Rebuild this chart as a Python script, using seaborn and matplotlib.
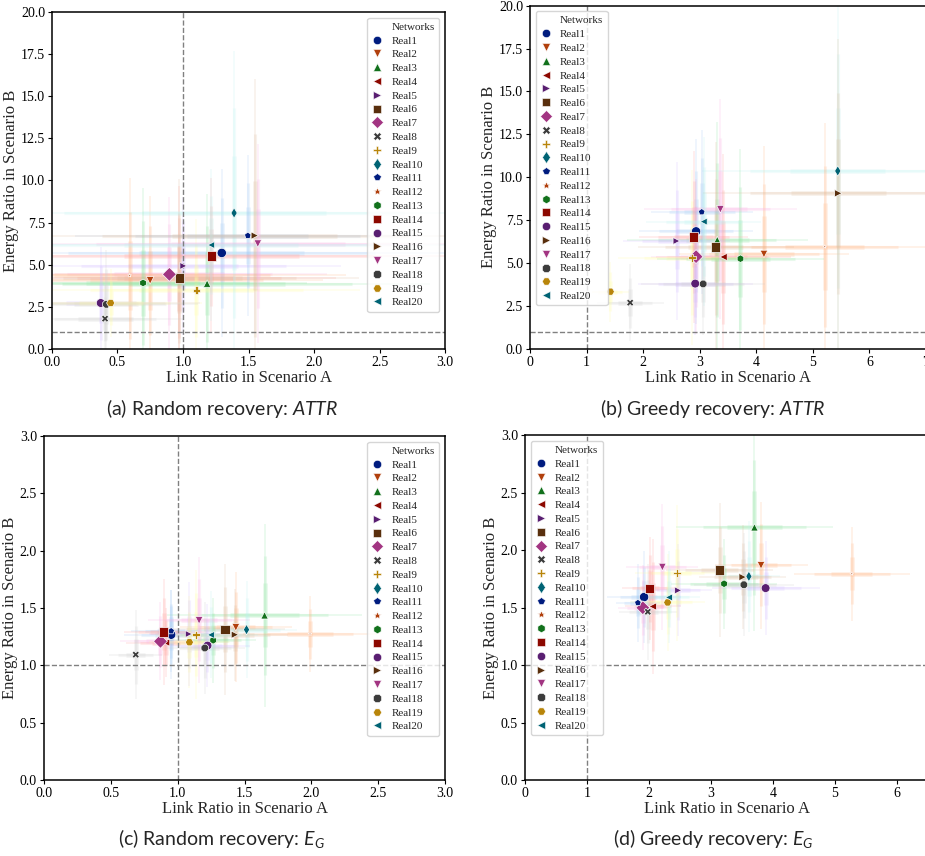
import matplotlib

matplotlib.use("Agg")
import matplotlib.pyplot as plt
import pandas as pd
import seaborn as sns
from matplotlib.lines import Line2D
from matplotlib.ticker import FormatStrFormatter

NETWORKS = [f"Real{i}" for i in range(1, 21)]
MARKERS = ["o", "v", "^", "<", ">", "s", "D", "X", "P", "d",
           "p", "*", "h", "s", "o", ">", "v", "8", "H", "<"]
SIZES = [45, 30, 28, 28, 25, 45, 50, 28, 32, 28,
         25, 8, 30, 45, 40, 28, 30, 35, 35, 25]

# (a) random recovery, ATTR
A_X = [1.296, 0.749, 1.184, 0.970, 1.003, 0.973, 0.896, 0.405, 1.103, 1.390,
       1.495, 0.593, 0.695, 1.217, 0.372, 1.548, 1.571, 0.415, 0.448, 1.215]
A_Y = [5.70, 4.07, 3.88, 4.20, 4.93, 4.21, 4.43, 1.80, 3.48, 8.07,
       6.73, 4.37, 3.92, 5.52, 2.73, 6.73, 6.25, 2.65, 2.73, 6.17]
A_XERR = [1.8, 1.32, 1.7, 1.2, 1.2, 1.37, 1.2, 0.6, 1.25, 2.0,
          1.32, 1.65, 1.25, 1.9, 0.76, 1.8, 1.9, 0.7, 0.7, 1.9]
A_YERR = [5.0, 5.0, 5.3, 5.5, 4.1, 5.9, 4.6, 2.0, 4.25, 9.6,
          4.8, 5.8, 5.65, 4.6, 3.35, 9.3, 5.9, 3.25, 2.0, 4.5]

# (b) greedy recovery, ATTR
B_X = [2.935, 4.135, 3.31, 3.42, 2.59, 3.28, 2.935, 1.77, 2.86, 5.44,
       3.035, 5.21, 3.72, 2.89, 2.92, 5.45, 3.365, 3.06, 1.42, 3.07]
B_Y = [6.85, 5.53, 6.35, 5.36, 6.29, 5.94, 5.38, 2.70, 5.32, 10.37,
       7.98, 5.96, 5.26, 6.52, 3.81, 9.07, 8.14, 3.79, 3.34, 7.42]
B_XERR = [1.0, 1.5, 1.6, 1.2, 0.95, 1.38, 0.8, 0.59, 1.3, 2.4,
          0.9, 2.0, 1.47, 0.97, 1.02, 2.4, 1.35, 1.1, 0.33, 1.02]
B_YERR = [5.4, 6.3, 6.9, 6.0, 4.6, 6.1, 4.5, 2.25, 5.1, 10.5,
          4.8, 7.2, 6.4, 5.0, 3.0, 9.0, 6.4, 3.0, 1.75, 4.9]

# (c) random recovery, E_G
C_X = [0.951, 1.435, 1.65, 0.913, 1.083, 1.355, 0.871, 0.686, 1.136, 1.515,
       0.951, 1.99, 1.265, 0.896, 1.223, 1.428, 1.16, 1.203, 1.088, 1.248]
C_Y = [1.267, 1.331, 1.436, 1.198, 1.273, 1.314, 1.209, 1.093, 1.267, 1.311,
       1.299, 1.273, 1.218, 1.291, 1.172, 1.267, 1.392, 1.151, 1.201, 1.265]
C_XERR = [0.35, 0.42, 0.73, 0.3, 0.3, 0.45, 0.3, 0.2, 0.3, 0.38,
          0.3, 0.5, 0.32, 0.3, 0.32, 0.4, 0.38, 0.3, 0.3, 0.35]
C_YERR = [0.39, 0.48, 0.8, 0.3, 0.45, 0.57, 0.34, 0.39, 0.56, 0.42,
          0.36, 0.33, 0.37, 0.46, 0.36, 0.4, 0.55, 0.4, 0.4, 0.38]

# (d) greedy recovery, E_G
D_X = [1.92, 3.806, 3.70, 2.06, 2.47, 3.14, 1.90, 1.98, 2.45, 3.61,
       1.82, 5.27, 3.21, 2.01, 3.88, 3.51, 2.215, 3.53, 2.30, 2.32]
D_Y = [1.592, 1.868, 2.199, 1.51, 1.65, 1.827, 1.499, 1.464, 1.80, 1.772,
       1.542, 1.795, 1.708, 1.667, 1.67, 1.766, 1.853, 1.699, 1.545, 1.589]
D_XERR = [0.6, 0.75, 1.27, 0.45, 0.55, 0.86, 0.4, 0.47, 0.67, 0.5,
          0.35, 0.94, 0.85, 0.45, 0.87, 0.7, 0.58, 0.8, 0.6, 0.5]
D_YERR = [0.4, 0.55, 0.9, 0.59, 0.4, 0.58, 0.37, 0.42, 0.59, 0.48,
          0.34, 0.41, 0.39, 0.45, 0.41, 0.45, 0.55, 0.45, 0.42, 0.4]

CAPTIONS = [
    "(a) Random recovery: $ATTR$",
    "(b) Greedy recovery: $ATTR$",
    "(c) Random recovery: $E_G$",
    "(d) Greedy recovery: $E_G$",
]

sns.set_theme(style="ticks")
plt.rcParams["font.family"] = ["Liberation Serif", "DejaVu Serif"]
plt.rcParams["mathtext.fontset"] = "custom"
plt.rcParams["mathtext.it"] = "Lato:italic"
plt.rcParams["mathtext.rm"] = "Lato"
plt.rcParams["axes.edgecolor"] = "black"
plt.rcParams["xtick.color"] = "black"
plt.rcParams["ytick.color"] = "black"

colors = sns.color_palette("dark", 10)
light = sns.color_palette("pastel", 10)
palette = {name: colors[i % 10] for i, name in enumerate(NETWORKS)}
bar_colors = {name: light[i % 10] for i, name in enumerate(NETWORKS)}
markers = dict(zip(NETWORKS, MARKERS))
sizes = dict(zip(NETWORKS, SIZES))


def draw_panel(ax, xs, ys, xerr, yerr, xlim, ylim, xticks, yticks, legend_loc):
    frame = pd.DataFrame({"network": NETWORKS, "x": xs, "y": ys, "xerr": xerr, "yerr": yerr})
    # faint, tapered error bars
    for row in frame.itertuples():
        for frac, lw in [(1.0, 1.2), (0.65, 2.2), (0.35, 3.4)]:
            ax.errorbar(
                row.x, row.y, xerr=row.xerr * frac, yerr=row.yerr * frac,
                fmt="none", ecolor=bar_colors[row.network], elinewidth=lw,
                alpha=0.2, capsize=0, zorder=1,
            )
    ax.axhline(1.0, color="gray", linestyle="--", linewidth=1, zorder=2)
    ax.axvline(1.0, color="gray", linestyle="--", linewidth=1, zorder=2)
    sns.scatterplot(
        data=frame, x="x", y="y", hue="network", style="network", size="network",
        palette=palette, markers=markers, sizes=sizes, edgecolor="white",
        linewidth=0.5, legend=False, ax=ax, zorder=3,
    )
    ax.set(xlim=xlim, ylim=ylim, xticks=xticks, yticks=yticks)
    ax.set_xlabel("Link Ratio in Scenario A", fontsize=12, labelpad=1)
    ax.set_ylabel("Energy Ratio in Scenario B", fontsize=12, labelpad=1)
    ax.tick_params(labelsize=10, length=3, width=0.8, pad=2)
    for spine in ax.spines.values():
        spine.set_linewidth(1.1)

    handles = [Line2D([], [], linestyle="", marker="")]
    labels = ["Networks"]
    for name in NETWORKS:
        handles.append(Line2D([], [], linestyle="", marker=markers[name], color=palette[name],
                              markersize=6, markeredgecolor="white", markeredgewidth=0.4))
        labels.append(name)
    ax.legend(handles, labels, loc=legend_loc, fontsize=8, handlelength=1.0,
              labelspacing=0.36, borderpad=0.4, handletextpad=0.8, framealpha=0.8)


fig = plt.figure(figsize=(9.25, 8.56), dpi=100)
ax_a = fig.add_axes([0.0562, 0.5923, 0.4249, 0.3937])
ax_b = fig.add_axes([0.5730, 0.5923, 0.4281, 0.4011])
ax_c = fig.add_axes([0.0476, 0.0888, 0.4335, 0.4019])
ax_d = fig.add_axes([0.5676, 0.0888, 0.4357, 0.4027])

draw_panel(ax_a, A_X, A_Y, A_XERR, A_YERR, (0, 3), (0, 20),
           [0, 0.5, 1.0, 1.5, 2.0, 2.5, 3.0], [0, 2.5, 5, 7.5, 10, 12.5, 15, 17.5, 20], "upper right")
draw_panel(ax_b, B_X, B_Y, B_XERR, B_YERR, (0, 7), (0, 20),
           [0, 1, 2, 3, 4, 5, 6, 7], [0, 2.5, 5, 7.5, 10, 12.5, 15, 17.5, 20], "upper left")
draw_panel(ax_c, C_X, C_Y, C_XERR, C_YERR, (0, 3), (0, 3),
           [0, 0.5, 1.0, 1.5, 2.0, 2.5, 3.0], [0, 0.5, 1.0, 1.5, 2.0, 2.5, 3.0], "upper right")
draw_panel(ax_d, D_X, D_Y, D_XERR, D_YERR, (0, 6.5), (0, 3),
           [0, 1, 2, 3, 4, 5, 6], [0, 0.5, 1.0, 1.5, 2.0, 2.5, 3.0], "upper left")

for ax in (ax_a, ax_b, ax_c, ax_d):
    ax.yaxis.set_major_formatter(FormatStrFormatter("%.1f"))
for ax in (ax_a, ax_c):
    ax.xaxis.set_major_formatter(FormatStrFormatter("%.1f"))
for ax in (ax_b, ax_d):
    ax.xaxis.set_major_formatter(FormatStrFormatter("%d"))

for (x, y), text in zip([(0.240, 0.523), (0.771, 0.523), (0.240, 0.021), (0.771, 0.021)], CAPTIONS):
    fig.text(x, y, text, ha="center", va="center", fontsize=14, family="Lato")

fig.savefig("out.png", dpi=100)
